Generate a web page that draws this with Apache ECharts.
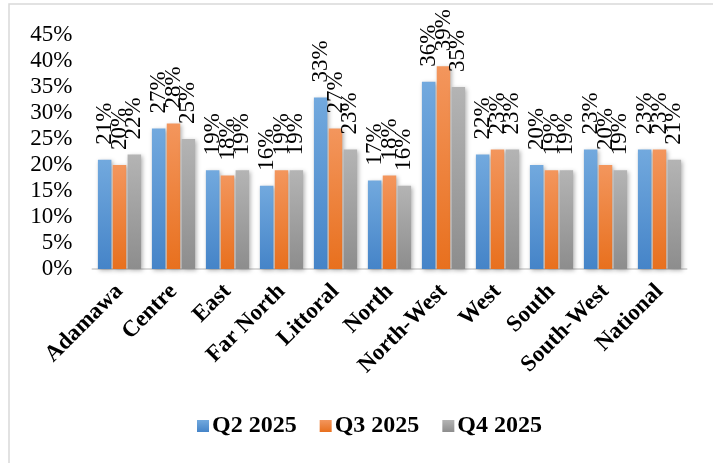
<!DOCTYPE html>
<html>
<head>
<meta charset="utf-8">
<script src="https://cdn.jsdelivr.net/npm/echarts@6/dist/echarts.min.js"></script>
<style>html,body{margin:0;padding:0;background:#fff}#c{width:713px;height:463px}</style>
</head>
<body>
<div id="c"></div>
<script>
const categories = ['Adamawa','Centre','East','Far North','Littoral','North','North-West','West','South','South-West','National'];
const seriesNames = ['Q2 2025','Q3 2025','Q4 2025'];
const q2 = [21,27,19,16,33,17,36,22,20,23,23];
const q3 = [20,28,18,19,27,18,39,23,19,20,23];
const q4 = [22,25,19,19,23,16,35,23,19,19,21];
const yTicks = {min:0, max:45, interval:5};

const font = '"Liberation Serif","Times New Roman",serif';
function grad(top, bottom){
  return new echarts.graphic.LinearGradient(0,0,0,1,[{offset:0,color:top},{offset:1,color:bottom}]);
}
const colors = [['#72a9de','#4584c8'],['#f3965d','#e8701e'],['#b4b4b4','#8d8d8d']];
const data = [q2,q3,q4];

const chart = echarts.init(document.getElementById('c'));
chart.setOption({
  animation:false,
  graphic:[{type:'rect',shape:{x:9,y:4,width:720,height:470},style:{fill:'none',stroke:'#d9d9d9',lineWidth:1.5},z:-1}],
  grid:{left:92.5,right:26.5,top:35,bottom:194},
  legend:{
    bottom:20,left:192,itemWidth:12,itemHeight:12,itemGap:23,
    icon:'rect',
    textStyle:{fontFamily:font,fontWeight:'bold',fontSize:24,color:'#000',padding:[0,0,0,-2]},
    data:seriesNames
  },
  xAxis:{
    type:'category',data:categories,
    axisLine:{lineStyle:{color:'#d9d9d9',width:2}},
    axisTick:{show:false},
    axisLabel:{rotate:45,margin:19,interval:0,fontFamily:font,fontWeight:'bold',fontSize:23,color:'#000'}
  },
  yAxis:{
    type:'value',min:yTicks.min,max:yTicks.max,interval:yTicks.interval,
    axisLine:{show:false},axisTick:{show:false},splitLine:{show:false},
    axisLabel:{formatter:'{value}%',margin:20,fontFamily:font,fontSize:23,color:'#000'}
  },
  series:seriesNames.map((n,i)=>({
    name:n,type:'bar',data:data[i],
    barWidth:13.5,barGap:'10%',
    itemStyle:{color:grad(colors[i][0],colors[i][1]),shadowBlur:4,shadowColor:'rgba(0,0,0,0.3)',shadowOffsetX:1.5,shadowOffsetY:1.5},
    label:{show:true,position:'top',distance:15,rotate:90,align:'left',verticalAlign:'middle',
      formatter:'{c}%',fontFamily:font,fontSize:23,color:'#000'}
  }))
});
</script>
</body>
</html>
